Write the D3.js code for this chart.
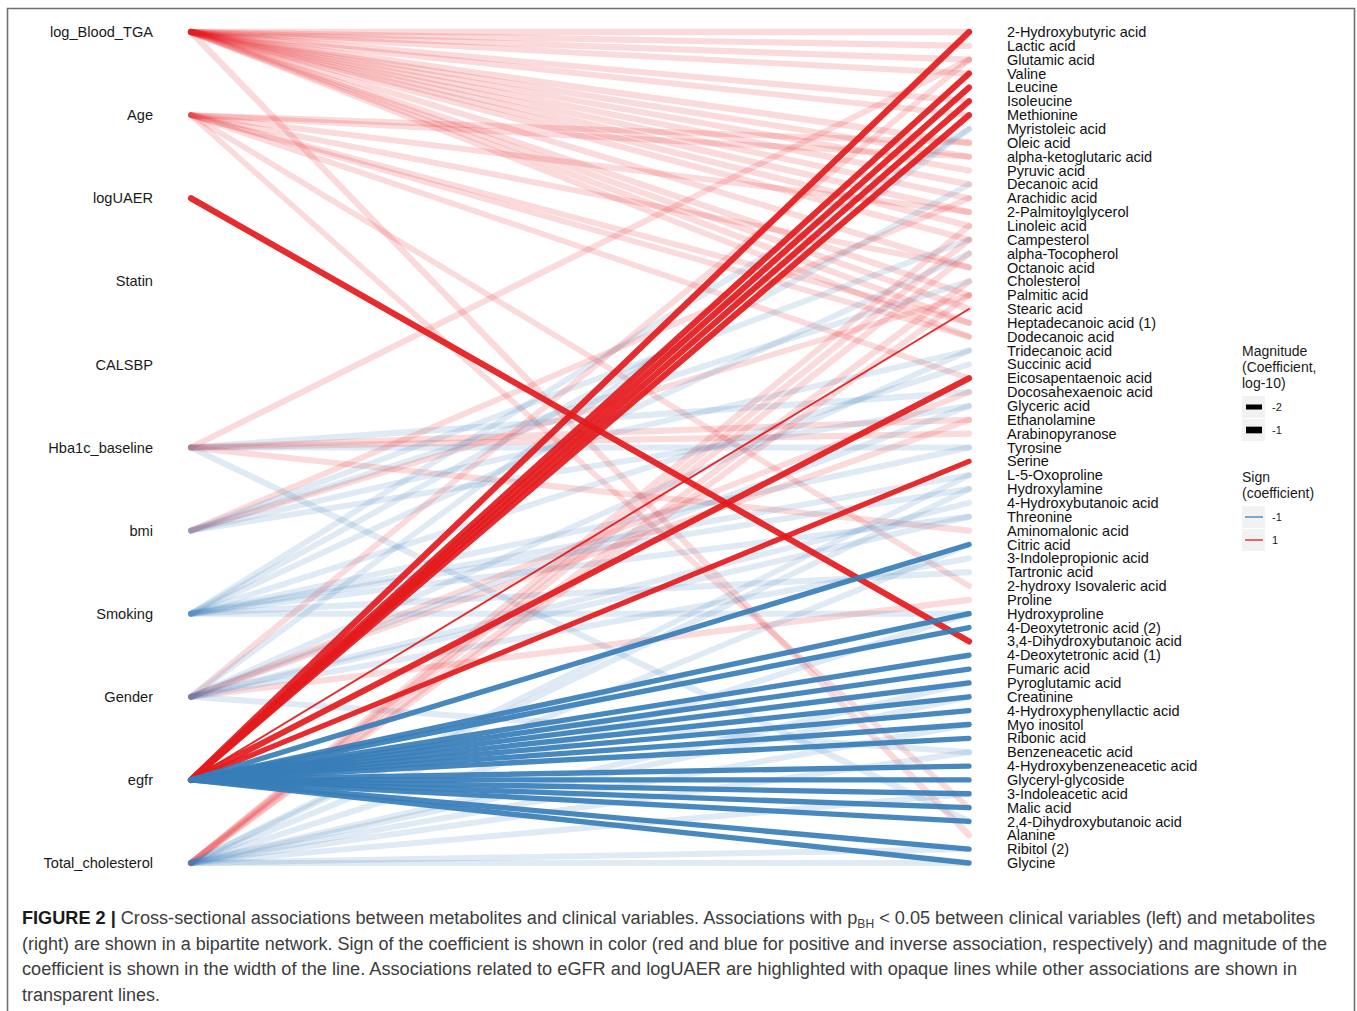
<!DOCTYPE html>
<html>
<head>
<meta charset="utf-8">
<script src="https://cdn.jsdelivr.net/npm/d3@7"></script>
<style>
  body { margin: 0; background: #fff; }
  svg text { font-family: "Liberation Sans", Arial, sans-serif; }
</style>
</head>
<body>
<svg id="chart"></svg>
<script>
// clinical variables (left column), top to bottom
const clinical = ['log_Blood_TGA', 'Age', 'logUAER', 'Statin', 'CALSBP', 'Hba1c_baseline',
  'bmi', 'Smoking', 'Gender', 'egfr', 'Total_cholesterol']

// metabolites (right column), top to bottom
const metabolites = ['2-Hydroxybutyric acid', 'Lactic acid', 'Glutamic acid', 'Valine', 'Leucine',
  'Isoleucine', 'Methionine', 'Myristoleic acid', 'Oleic acid', 'alpha-ketoglutaric acid',
  'Pyruvic acid', 'Decanoic acid', 'Arachidic acid', '2-Palmitoylglycerol', 'Linoleic acid',
  'Campesterol', 'alpha-Tocopherol', 'Octanoic acid', 'Cholesterol', 'Palmitic acid',
  'Stearic acid', 'Heptadecanoic acid (1)', 'Dodecanoic acid', 'Tridecanoic acid', 'Succinic acid',
  'Eicosapentaenoic acid', 'Docosahexaenoic acid', 'Glyceric acid', 'Ethanolamine', 'Arabinopyranose',
  'Tyrosine', 'Serine', 'L-5-Oxoproline', 'Hydroxylamine', '4-Hydroxybutanoic acid',
  'Threonine', 'Aminomalonic acid', 'Citric acid', '3-Indolepropionic acid', 'Tartronic acid',
  '2-hydroxy Isovaleric acid', 'Proline', 'Hydroxyproline', '4-Deoxytetronic acid (2)', '3,4-Dihydroxybutanoic acid',
  '4-Deoxytetronic acid (1)', 'Fumaric acid', 'Pyroglutamic acid', 'Creatinine', '4-Hydroxyphenyllactic acid',
  'Myo inositol', 'Ribonic acid', 'Benzeneacetic acid', '4-Hydroxybenzeneacetic acid', 'Glyceryl-glycoside',
  '3-Indoleacetic acid', 'Malic acid', '2,4-Dihydroxybutanoic acid', 'Alanine', 'Ribitol (2)', 'Glycine']

// associations: [clinical, metabolite, sign, log10 |coefficient|]
const edges = [
  // log_Blood_TGA
  ['log_Blood_TGA', '2-Hydroxybutyric acid', 1, -1.6], ['log_Blood_TGA', 'Lactic acid', 1, -1.7],
  ['log_Blood_TGA', 'Glutamic acid', 1, -1.6], ['log_Blood_TGA', 'Valine', 1, -1.8],
  ['log_Blood_TGA', 'Isoleucine', 1, -1.7], ['log_Blood_TGA', 'Methionine', 1, -1.8],
  ['log_Blood_TGA', 'Oleic acid', 1, -1.5],
  ['log_Blood_TGA', 'alpha-ketoglutaric acid', 1, -1.7], ['log_Blood_TGA', 'Pyruvic acid', 1, -1.7],
  ['log_Blood_TGA', 'Decanoic acid', 1, -1.6], ['log_Blood_TGA', 'Arachidic acid', 1, -1.7],
  ['log_Blood_TGA', '2-Palmitoylglycerol', 1, -1.5], ['log_Blood_TGA', 'Linoleic acid', 1, -1.6],
  ['log_Blood_TGA', 'Campesterol', 1, -1.7], ['log_Blood_TGA', 'Octanoic acid', 1, -1.7],
  ['log_Blood_TGA', 'Palmitic acid', 1, -1.6], ['log_Blood_TGA', 'Stearic acid', 1, -1.7],
  ['log_Blood_TGA', 'Heptadecanoic acid (1)', 1, -1.6], ['log_Blood_TGA', 'Dodecanoic acid', 1, -1.8],
  ['log_Blood_TGA', 'Alanine', 1, -1.6],
  // Age
  ['Age', 'Oleic acid', 1, -1.8], ['Age', 'alpha-ketoglutaric acid', 1, -1.8],
  ['Age', '2-Palmitoylglycerol', 1, -1.8], ['Age', 'Octanoic acid', 1, -1.8],
  ['Age', 'Heptadecanoic acid (1)', 1, -1.8], ['Age', 'Dodecanoic acid', 1, -1.9],
  ['Age', 'Eicosapentaenoic acid', 1, -1.9], ['Age', '2-hydroxy Isovaleric acid', 1, -1.9],
  ['Age', 'Malic acid', 1, -2.0],
  // logUAER
  ['logUAER', '3,4-Dihydroxybutanoic acid', 1, -1.3],
  // Hba1c_baseline
  ['Hba1c_baseline', 'Glutamic acid', 1, -1.7], ['Hba1c_baseline', 'Docosahexaenoic acid', -1, -1.6],
  ['Hba1c_baseline', 'Ethanolamine', 1, -1.7], ['Hba1c_baseline', 'Arabinopyranose', 1, -1.7],
  ['Hba1c_baseline', 'Aminomalonic acid', 1, -1.7], ['Hba1c_baseline', '2,4-Dihydroxybutanoic acid', -1, -1.6],
  ['Hba1c_baseline', 'Tyrosine', -1, -1.8],
  // bmi
  ['bmi', 'Arachidic acid', 1, -1.8], ['bmi', 'Campesterol', -1, -1.8],
  ['bmi', 'Cholesterol', -1, -1.8], ['bmi', 'Tridecanoic acid', -1, -1.8],
  ['bmi', 'Glyceric acid', -1, -1.8], ['bmi', 'Palmitic acid', 1, -1.9],
  // Smoking
  ['Smoking', 'Decanoic acid', -1, -1.8], ['Smoking', 'Tyrosine', -1, -1.8],
  ['Smoking', 'L-5-Oxoproline', -1, -1.8], ['Smoking', 'Hydroxylamine', -1, -1.8],
  ['Smoking', 'Tartronic acid', -1, -1.7], ['Smoking', 'Hydroxyproline', -1, -1.7],
  ['Smoking', 'Myristoleic acid', -1, -1.8], ['Smoking', 'Succinic acid', -1, -1.8],
  ['Smoking', 'Threonine', -1, -1.8], ['Smoking', 'alpha-Tocopherol', -1, -1.8],
  // Gender
  ['Gender', 'Glutamic acid', 1, -1.8], ['Gender', 'Ethanolamine', 1, -1.7],
  ['Gender', 'Proline', 1, -1.7], ['Gender', '4-Hydroxybutanoic acid', -1, -1.8],
  ['Gender', 'Benzeneacetic acid', -1, -1.7], ['Gender', 'Threonine', -1, -1.8],
  ['Gender', 'Docosahexaenoic acid', 1, -1.8], ['Gender', 'Tridecanoic acid', -1, -1.9],
  ['Gender', '3-Indolepropionic acid', -1, -1.8], ['Gender', 'Glyceric acid', -1, -1.8],
  ['Gender', 'Myristoleic acid', -1, -1.9],
  // egfr
  ['egfr', '2-Hydroxybutyric acid', 1, -1.3], ['egfr', 'Valine', 1, -1.4],
  ['egfr', 'Leucine', 1, -1.4], ['egfr', 'Isoleucine', 1, -1.4],
  ['egfr', 'Methionine', 1, -1.4], ['egfr', 'Stearic acid', 1, -3.8],
  ['egfr', 'Eicosapentaenoic acid', 1, -1.3], ['egfr', 'Serine', 1, -1.8],
  ['egfr', 'Citric acid', -1, -1.8], ['egfr', 'Hydroxyproline', -1, -1.8],
  ['egfr', '4-Deoxytetronic acid (2)', -1, -1.8], ['egfr', '4-Deoxytetronic acid (1)', -1, -1.8],
  ['egfr', 'Fumaric acid', -1, -1.8], ['egfr', 'Pyroglutamic acid', -1, -1.8],
  ['egfr', 'Creatinine', -1, -1.8], ['egfr', '4-Hydroxyphenyllactic acid', -1, -1.8],
  ['egfr', 'Myo inositol', -1, -1.8], ['egfr', 'Ribonic acid', -1, -1.8],
  ['egfr', '4-Hydroxybenzeneacetic acid', -1, -1.8], ['egfr', 'Glyceryl-glycoside', -1, -1.8],
  ['egfr', '3-Indoleacetic acid', -1, -1.8], ['egfr', 'Malic acid', -1, -1.8],
  ['egfr', '2,4-Dihydroxybutanoic acid', -1, -1.8], ['egfr', 'Ribitol (2)', -1, -1.8],
  ['egfr', 'Glycine', -1, -1.8],
  // Total_cholesterol
  ['Total_cholesterol', 'Linoleic acid', 1, -1.7], ['Total_cholesterol', 'Campesterol', 1, -1.6],
  ['Total_cholesterol', 'alpha-Tocopherol', 1, -1.6], ['Total_cholesterol', 'Cholesterol', 1, -1.5],
  ['Total_cholesterol', 'Palmitic acid', 1, -1.7],
  ['Total_cholesterol', 'Hydroxyproline', -1, -1.8], ['Total_cholesterol', 'Citric acid', -1, -1.8],
  ['Total_cholesterol', 'Creatinine', -1, -1.8], ['Total_cholesterol', 'Myo inositol', -1, -1.8],
  ['Total_cholesterol', 'Benzeneacetic acid', -1, -1.8], ['Total_cholesterol', '3-Indoleacetic acid', -1, -1.8],
  ['Total_cholesterol', 'Hydroxylamine', -1, -1.8], ['Total_cholesterol', 'Ribitol (2)', -1, -1.8],
  ['Total_cholesterol', 'Glycine', -1, -1.8], ['Total_cholesterol', 'Pyroglutamic acid', -1, -1.8],
  ['Total_cholesterol', 'L-5-Oxoproline', -1, -1.9]
]

const highlighted = ['egfr', 'logUAER']

const magnitudeKeys = [-2, -1]
const signKeys = [-1, 1]

const captionLines = [
  'Cross-sectional associations between metabolites and clinical variables. Associations with p',
  '(right) are shown in a bipartite network. Sign of the coefficient is shown in color (red and blue for positive and inverse association, respectively) and magnitude of the',
  'coefficient is shown in the width of the line. Associations related to eGFR and logUAER are highlighted with opaque lines while other associations are shown in',
  'transparent lines.'
]

let width = 1357
let height = 1011

let svg = d3.select('#chart')
  .attr('width', width)
  .attr('height', height)

svg.append('rect').attr('width', width).attr('height', height).attr('fill', '#fff')

// figure frame (bottom edge is off the page)
svg.append('path')
  .attr('d', 'M7.5,' + (height + 5) + ' V8.5 H1354.5 V' + (height + 5))
  .attr('fill', 'none')
  .attr('stroke', '#707070')
  .attr('stroke-width', 1.6)

let xScale = d3.scalePoint().domain(['left', 'right']).range([191, 969])
let yLeft = d3.scalePoint().domain(clinical).range([32, 863])
let yRight = d3.scalePoint().domain(metabolites).range([32, 863])
let widthScale = d3.scaleLinear().domain([-4, -1]).range([1.6, 6.7])
let colorScale = d3.scaleOrdinal().domain([-1, 1]).range(['#377eb8', '#e41a1c'])

let isHi = (d) => highlighted.includes(d[0])

// transparent links first, highlighted ones on top
let sorted = edges.filter((d) => !isHi(d)).concat(edges.filter(isHi))

svg.append('g')
  .selectAll('line')
  .data(sorted)
  .enter()
  .append('line')
  .attr('x1', xScale('left'))
  .attr('y1', (d) => yLeft(d[0]))
  .attr('x2', xScale('right'))
  .attr('y2', (d) => yRight(d[1]))
  .attr('stroke', (d) => colorScale(d[2]))
  .attr('stroke-width', (d) => isHi(d) ? widthScale(d[3]) : widthScale(d[3]) + 0.6)
  .attr('stroke-linecap', 'round')
  .attr('stroke-opacity', (d) => isHi(d) ? 0.92 : 0.16)

// left labels
svg.append('g')
  .selectAll('text')
  .data(clinical)
  .enter()
  .append('text')
  .attr('x', 153)
  .attr('y', (d) => yLeft(d))
  .attr('dy', '0.35em')
  .attr('text-anchor', 'end')
  .attr('font-size', 14.6)
  .attr('fill', '#1a1a1a')
  .text((d) => d)

// right labels
svg.append('g')
  .selectAll('text')
  .data(metabolites)
  .enter()
  .append('text')
  .attr('x', 1007)
  .attr('y', (d) => yRight(d))
  .attr('dy', '0.35em')
  .attr('font-size', 14.5)
  .attr('fill', '#111')
  .text((d) => d)

// legend: magnitude
let legend = svg.append('g').attr('font-size', 14).attr('fill', '#1a1a1a')
;['Magnitude', '(Coefficient,', 'log-10)'].forEach((t, i) => {
  legend.append('text').attr('x', 1242).attr('y', 356 + i * 16).text(t)
})
magnitudeKeys.forEach((m, i) => {
  let y = 407 + i * 23
  legend.append('rect').attr('x', 1242).attr('y', y - 11).attr('width', 23).attr('height', 22).attr('fill', '#f2f2f2')
  legend.append('line').attr('x1', 1246).attr('x2', 1262).attr('y1', y).attr('y2', y)
    .attr('stroke', '#000').attr('stroke-width', widthScale(m))
  legend.append('text').attr('x', 1272).attr('y', y + 4).attr('font-size', 11).text(m)
})

// legend: sign
;['Sign', '(coefficient)'].forEach((t, i) => {
  legend.append('text').attr('x', 1242).attr('y', 482 + i * 16).text(t)
})
signKeys.forEach((s, i) => {
  let y = 517 + i * 23
  legend.append('rect').attr('x', 1242).attr('y', y - 11).attr('width', 23).attr('height', 22).attr('fill', '#f2f2f2')
  legend.append('line').attr('x1', 1245).attr('x2', 1263).attr('y1', y).attr('y2', y)
    .attr('stroke', colorScale(s)).attr('stroke-width', 1.3)
  legend.append('text').attr('x', 1272).attr('y', y + 4).attr('font-size', 11).text(s)
})

// caption
let cap = svg.append('g').attr('font-size', 18).attr('fill', '#3c3c3c')
let lineLengths = [1293, 1305, 1275, null]
captionLines.forEach((t, i) => {
  let txt = cap.append('text').attr('x', 22).attr('y', 924 + i * 25.5)
  if (lineLengths[i]) txt.attr('textLength', lineLengths[i]).attr('lengthAdjust', 'spacingAndGlyphs')
  if (i == 0) {
    txt.append('tspan').attr('font-weight', 'bold').attr('fill', '#1a1a1a').text('FIGURE 2 | ')
    txt.append('tspan').text(t)
    txt.append('tspan').attr('font-size', 12).attr('dy', 4).text('BH')
    txt.append('tspan').attr('dy', -4).text(' < 0.05 between clinical variables (left) and metabolites')
  } else {
    txt.text(t)
  }
})
</script>
</body>
</html>
